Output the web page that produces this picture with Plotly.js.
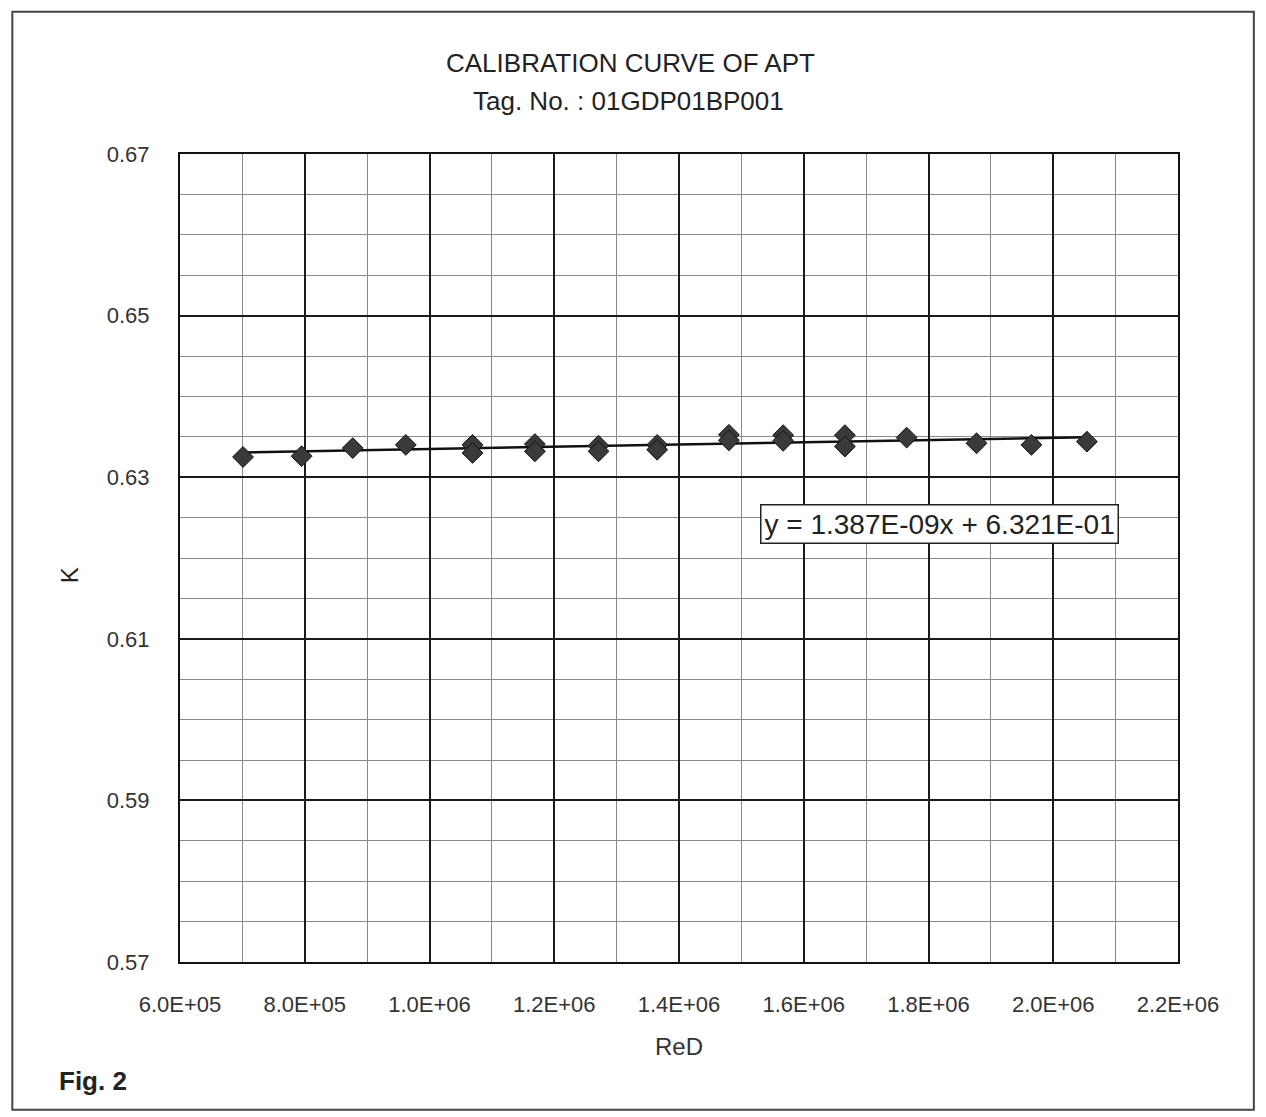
<!DOCTYPE html>
<html>
<head>
<meta charset="utf-8">
<script src="https://cdn.plot.ly/plotly-3.0.1.min.js"></script>
<style>
html,body{margin:0;padding:0;background:#fff;}
#chart{width:1266px;height:1117px;}
</style>
</head>
<body>
<div id="chart"></div>
<script>
// Measured points (ReD, K)
const reD = [7.01e5, 7.95e5, 8.77e5, 9.62e5, 1.069e6, 1.069e6, 1.169e6, 1.169e6, 1.271e6, 1.271e6,
             1.365e6, 1.365e6, 1.480e6, 1.480e6, 1.567e6, 1.567e6, 1.666e6, 1.666e6, 1.765e6,
             1.877e6, 1.965e6, 2.054e6];
const kVals = [0.6325, 0.6326, 0.6336, 0.6340, 0.6340, 0.6330, 0.6341, 0.6332, 0.6339, 0.6332,
               0.6340, 0.6334, 0.63525, 0.63456, 0.6352, 0.6345, 0.6352, 0.6338, 0.6349,
               0.6342, 0.6340, 0.6344];

// Trendline from the chart's equation
const slope = 1.387e-9;
const intercept = 0.6321;
const trendX = [7.01e5, 2.054e6];
const trendY = trendX.map(v => slope * v + intercept);

// Tick labels
const xTickVals = [6e5, 8e5, 1.0e6, 1.2e6, 1.4e6, 1.6e6, 1.8e6, 2.0e6, 2.2e6];
const xTickText = ['6.0E+05', '8.0E+05', '1.0E+06', '1.2E+06', '1.4E+06', '1.6E+06', '1.8E+06', '2.0E+06', '2.2E+06'];
const xMinorVals = [7e5, 9e5, 1.1e6, 1.3e6, 1.5e6, 1.7e6, 1.9e6, 2.1e6];
const yTickVals = [0.57, 0.59, 0.61, 0.63, 0.65, 0.67];
const yTickText = ['0.57', '0.59', '0.61', '0.63', '0.65', '0.67'];
const yMinorVals = [0.575, 0.58, 0.585, 0.595, 0.60, 0.605, 0.615, 0.62, 0.625,
                    0.635, 0.64, 0.645, 0.655, 0.66, 0.665];

const titleLine1 = 'CALIBRATION CURVE OF APT';
const titleLine2 = 'Tag. No. : 01GDP01BP001';
const equationText = 'y = 1.387E-09x + 6.321E-01';

const FONT = 'Liberation Sans, Arial, sans-serif';

const traces = [
  {
    x: trendX, y: trendY, type: 'scatter', mode: 'lines',
    line: {color: '#111', width: 2.5}, hoverinfo: 'skip', showlegend: false
  },
  {
    x: reD, y: kVals, type: 'scatter', mode: 'markers',
    marker: {symbol: 'diamond', size: 16, color: '#3a3a3a', line: {color: '#111', width: 1}},
    showlegend: false
  }
];

const layout = {
  width: 1266, height: 1117,
  paper_bgcolor: '#fff', plot_bgcolor: '#fff',
  margin: {l: 180, r: 88, t: 154, b: 155},
  font: {family: FONT, color: '#222'},
  xaxis: {
    range: [6e5, 2.2e6],
    tickmode: 'array', tickvals: xTickVals, ticktext: xTickText,
    tickfont: {size: 22, color: '#333'},
    ticks: 'outside', ticklen: 22, tickcolor: 'rgba(0,0,0,0)',
    showgrid: true, gridcolor: '#1a1a1a', gridwidth: 2,
    minor: {tickmode: 'array', tickvals: xMinorVals, showgrid: true, gridcolor: '#8a8a8a', gridwidth: 1, ticks: ''},
    showline: true, linecolor: '#111', linewidth: 2, mirror: true,
    zeroline: false,
    title: {text: 'ReD', font: {size: 24, color: '#333'}, standoff: 22}
  },
  yaxis: {
    range: [0.57, 0.67],
    tickmode: 'array', tickvals: yTickVals, ticktext: yTickText,
    tickfont: {size: 22, color: '#333'},
    ticks: 'outside', ticklen: 24, tickcolor: 'rgba(0,0,0,0)',
    showgrid: true, gridcolor: '#1a1a1a', gridwidth: 2,
    minor: {tickmode: 'array', tickvals: yMinorVals, showgrid: true, gridcolor: '#8a8a8a', gridwidth: 1, ticks: ''},
    showline: true, linecolor: '#111', linewidth: 2, mirror: true,
    zeroline: false
  },
  annotations: [
    {
      xref: 'paper', yref: 'paper', x: 0.451, y: 1.1125,
      xanchor: 'center', yanchor: 'middle',
      text: titleLine1, showarrow: false,
      font: {family: FONT, size: 26, color: '#222'}
    },
    {
      xref: 'paper', yref: 'paper', x: 0.449, y: 1.0655,
      xanchor: 'center', yanchor: 'middle',
      text: titleLine2, showarrow: false,
      font: {family: FONT, size: 26, color: '#222'}
    },
    {
      xref: 'paper', yref: 'paper', x: -0.11, y: 0.479,
      xanchor: 'center', yanchor: 'middle', textangle: -90,
      text: 'K', showarrow: false,
      font: {family: FONT, size: 24, color: '#222'}
    },
    {
      xref: 'paper', yref: 'paper', x: 0.7615, y: 0.542,
      xanchor: 'center', yanchor: 'middle',
      text: equationText, showarrow: false,
      font: {family: FONT, size: 28, color: '#222'},
      bgcolor: '#fff', bordercolor: '#222', borderwidth: 1.5, borderpad: 3
    },
    {
      xref: 'paper', yref: 'paper', x: -0.123, y: -0.147,
      xanchor: 'left', yanchor: 'middle',
      text: '<b>Fig. 2</b>', showarrow: false,
      font: {family: FONT, size: 26, color: '#222'}
    }
  ],
  shapes: [
    {
      type: 'rect', xref: 'paper', yref: 'paper',
      x0: -0.168, x1: 1.076, y0: -0.183, y1: 1.176,
      line: {color: '#444', width: 2}, fillcolor: 'rgba(0,0,0,0)', layer: 'below'
    }
  ]
};

Plotly.newPlot('chart', traces, layout, {displayModeBar: false, staticPlot: true});
</script>
</body>
</html>
